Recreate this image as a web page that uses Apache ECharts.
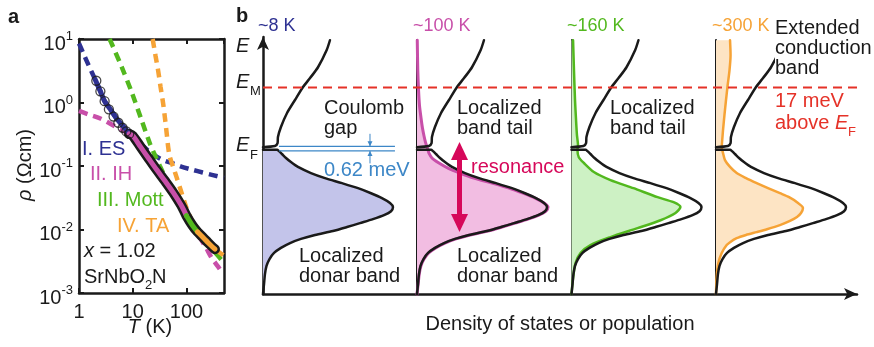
<!DOCTYPE html>
<html>
<head>
<meta charset="utf-8">
<script src="https://cdn.jsdelivr.net/npm/echarts@6/dist/echarts.min.js"></script>
<style>
  html, body { margin: 0; padding: 0; background: #fff; }
  #chart { width: 874px; height: 347px; }
</style>
</head>
<body>
<div id="chart"></div>
<script>
// ---------- styling ----------
const FONT = '"Liberation Sans", Arial, Helvetica, sans-serif';
const INK = '#1a1a1a';
const C_ES = '#2e3192', C_IH = '#c84fa9', C_MOTT = '#52b81e', C_TA = '#f6a336';
const F_ES = '#c3c4ea', F_IH = '#f2bde2', F_MOTT = '#cdf1c4', F_TA = '#fde4c4';
const C_RED = '#e53228', C_RES = '#d6085a', C_GAP = '#3d87c7';

// ---------- panel a: resistivity of SrNbO2N (x = 1.02) ----------
const rhoTickExp = [-3, -2, -1, 0, 1];
const tTickLabels = [1, 10, 100];

// sparse low-temperature points (open circles)
const circleT   = [2.1, 2.5, 3.0, 3.6, 4.4, 5.4, 6.5, 7.6, 8.6];
const circleRho = [2.2, 1.5, 1.05, 0.78, 0.60, 0.48, 0.40, 0.35, 0.32];

// dense measured curve
const curveT   = [8.6, 10, 14, 20, 28, 40, 57, 80, 100, 130, 160, 200, 240, 280, 340];
const curveRho = [0.32, 0.30, 0.20, 0.13, 0.087, 0.058, 0.038, 0.024, 0.0165, 0.0115, 0.0092, 0.0076, 0.0065, 0.0057, 0.0049];

// I. Efros-Shklovskii VRH fit
const esT   = [1, 1.2, 1.5, 2, 2.5, 3, 4, 5, 6.5, 8, 10, 13.6, 20, 28, 40, 56, 80, 130, 200, 310, 500];
const esRho = [8.5, 6.0, 3.9, 2.3, 1.5, 1.05, 0.74, 0.56, 0.43, 0.35, 0.28, 0.23, 0.17, 0.14, 0.12, 0.11, 0.098, 0.087, 0.079, 0.072, 0.065];
const esRange = [2, 8];

// II. impurity hopping fit
const ihT   = [1, 1.5, 2.5, 4.7, 8.6, 10, 14, 20, 28, 40, 57, 80, 100, 130, 177, 230, 293, 388, 480];
const ihRho = [0.74, 0.65, 0.56, 0.42, 0.32, 0.30, 0.20, 0.13, 0.087, 0.058, 0.038, 0.024, 0.0165, 0.011, 0.0075, 0.0052, 0.0036, 0.0026, 0.0020];
const ihRange = [8.6, 100];

// III. Mott VRH fit
const mottT   = [3.7, 4.05, 6.2, 9.5, 14.6, 20.8, 25.8, 32, 40, 57, 80, 100, 130, 160, 200, 250, 362, 480];
const mottRho = [10, 8.5, 3.66, 1.48, 0.53, 0.228, 0.149, 0.10, 0.068, 0.039, 0.024, 0.0165, 0.0115, 0.0092, 0.0072, 0.0058, 0.0041, 0.0031];
const mottRange = [100, 160];

// IV. thermal activation fit
const taT   = [23.5, 26.5, 29.6, 33, 36.8, 40, 43, 46, 49, 57, 65, 81, 100, 130, 160, 200, 240, 280, 340, 420, 500];
const taRho = [10, 5.5, 3.25, 1.75, 0.97, 0.55, 0.32, 0.19, 0.14, 0.095, 0.068, 0.038, 0.022, 0.013, 0.0092, 0.0076, 0.0065, 0.0057, 0.0049, 0.0043, 0.0039];
const taRange = [160, 340];

// ---------- panel b: density of states [DOS (peak = 1), energy (meV from E_F)] ----------
const eMin = -40.4, eMaxAxis = 31.0, eMaxPanel = 30.17;
const eM = 17;            // mobility edge, 17 meV above E_F
const gapMeV = 0.62;      // Coulomb gap

const bandTail = [
  [0.515, 30.1], [0.49, 27.4], [0.423, 22.6], [0.362, 19.6], [0.308, 17.1], [0.246, 13.5],
  [0.185, 9.9], [0.138, 6.0], [0.115, 3.2], [0.112, 1.5], [0.092, 0.7], [0, 0.4]
];
const donorBand = [
  [0, -0.3], [0.108, -0.3], [0.123, -0.7], [0.146, -1.5], [0.177, -2.6], [0.215, -3.75],
  [0.269, -5.1], [0.369, -6.8], [0.477, -8.2], [0.608, -9.6], [0.731, -11.0], [0.831, -12.4],
  [0.915, -13.75], [0.977, -15.1], [1.0, -16.25], [0.985, -17.4], [0.931, -18.5], [0.846, -19.6],
  [0.746, -20.7], [0.646, -21.8], [0.538, -22.9], [0.4, -24.0], [0.292, -25.1], [0.208, -26.25],
  [0.138, -27.6], [0.085, -29.0], [0.05, -30.7], [0.027, -32.6], [0.015, -34.9], [0.008, -37.6], [0, -40.4]
];
// electron population at ~8 K: the donor band filled below E_F
const pop8K = donorBand;
const pop100K = [
  [0.002, 30.1], [0.006, 21.8], [0.012, 16.25], [0.019, 12.1], [0.031, 8.5], [0.042, 5.7],
  [0.054, 3.5], [0.065, 1.8], [0.077, 0.4], [0.085, -0.4], [0.092, -1.25], [0.115, -2.6],
  [0.169, -4.0], [0.238, -5.4], [0.331, -6.8], [0.438, -8.2], [0.577, -9.6], [0.708, -11.0],
  [0.815, -12.4], [0.908, -13.75], [0.977, -15.1], [1.008, -16.25], [0.992, -17.4], [0.938, -18.5],
  [0.854, -19.6], [0.754, -20.7], [0.654, -21.8], [0.546, -22.9], [0.408, -24.0], [0.3, -25.1],
  [0.215, -26.25], [0.144, -27.6], [0.09, -29.0], [0.054, -30.7], [0.03, -32.6], [0.017, -34.9],
  [0.009, -37.6], [0, -40.4]
];
const pop160K = [
  [0.012, 30.1], [0.019, 21.8], [0.027, 13.5], [0.035, 7.9], [0.042, 3.75], [0.05, 1.0],
  [0.046, -0.4], [0.056, -2.4], [0.095, -4.0], [0.172, -6.5], [0.3, -8.75], [0.477, -11.0],
  [0.662, -13.5], [0.785, -14.9], [0.838, -16.25], [0.8, -17.9], [0.685, -19.9], [0.508, -22.1],
  [0.3, -24.6], [0.146, -26.8], [0.069, -29.0], [0.031, -31.8], [0.013, -35.7], [0, -40.4]
];
const pop300K = [
  [0.108, 30.1], [0.112, 26.0], [0.104, 21.8], [0.088, 17.1], [0.077, 13.5], [0.065, 9.3],
  [0.054, 5.1], [0.048, 2.4], [0.044, 0.4], [0.054, -1.25], [0.069, -3.2], [0.108, -5.1],
  [0.159, -6.8], [0.231, -8.2], [0.313, -9.6], [0.4, -11.0], [0.492, -12.4], [0.562, -13.5],
  [0.623, -14.9], [0.669, -16.5], [0.654, -17.9], [0.623, -19.0], [0.569, -20.1], [0.492, -21.25],
  [0.392, -22.4], [0.313, -23.2], [0.231, -24.0], [0.159, -24.9], [0.108, -26.0], [0.082, -26.8],
  [0.044, -29.0], [0.018, -31.8], [0.005, -35.7], [0, -40.4]
];
const resonanceX = 0.327, resonanceE = [-0.7, -20.7];
const gapLineX = [0.123, 1.015], gapArrowX = 0.823;

// ---------- helpers ----------
const zip = (a, b) => a.map((v, i) => [v, b[i]]);
const within = (pts, r) => pts.filter(p => p[0] >= r[0] - 1e-9 && p[0] <= r[1] + 1e-9);

function fitDashed(pts, color) {
  return { type: 'line', xAxisIndex: 0, yAxisIndex: 0, data: pts, showSymbol: false, smooth: 0.3,
    lineStyle: { color, width: 4.5, type: [9, 6], cap: 'butt' }, z: 2, silent: true };
}
function fitSolid(pts, color) {
  return { type: 'line', xAxisIndex: 0, yAxisIndex: 0, data: pts, showSymbol: false, smooth: 0.3,
    lineStyle: { color, width: 5, cap: 'round', join: 'round' }, z: 5, silent: true };
}
function dosLine(gi, pts, color, width, z) {
  return { type: 'line', xAxisIndex: gi, yAxisIndex: gi, data: pts, showSymbol: false, smooth: 0.25,
    clip: false, lineStyle: { color, width, join: 'round', cap: 'round' }, z, silent: true };
}
function dosFill(gi, pts, color) {
  const poly = [[0, pts[0][1]]].concat(pts, [[0, pts[pts.length - 1][1]]]);
  return { type: 'custom', coordinateSystem: 'cartesian2d', xAxisIndex: gi, yAxisIndex: gi,
    data: [[0, 0]], z: 1, silent: true,
    renderItem: (params, api) => ({ type: 'polygon', shape: { points: poly.map(p => api.coord(p)) },
      style: { fill: color } }) };
}
function txt(x, y, text, color, extra) {
  return { type: 'text', x, y, z: 50, silent: true,
    style: Object.assign({ text, fill: color || INK, fontSize: 20, fontFamily: FONT,
      align: 'left', verticalAlign: 'middle' }, extra || {}) };
}
const italicRich = { i: { fontStyle: 'italic', fontSize: 20, fontFamily: FONT } };

// ---------- axes ----------
const logX = (pos, labels) => ({
  gridIndex: 0, type: 'log', logBase: 10, min: 1, max: 500, position: pos,
  axisLine: { onZero: false, lineStyle: { color: INK, width: 2.5 } },
  axisTick: { inside: true, length: 5, lineStyle: { color: INK, width: 2 } },
  axisLabel: labels ? { color: INK, fontSize: 20, fontFamily: FONT, margin: 9, showMaxLabel: false,
    formatter: v => tTickLabels.includes(Math.round(v)) ? String(Math.round(v)) : '' } : { show: false },
  splitLine: { show: false }, minorTick: { show: false }
});
const logY = (pos, labels) => ({
  gridIndex: 0, type: 'log', logBase: 10, min: 1e-3, max: 10, position: pos,
  axisLine: { onZero: false, lineStyle: { color: INK, width: 2.5 } },
  axisTick: { inside: true, length: 5, lineStyle: { color: INK, width: 2 } },
  axisLabel: labels ? { color: INK, margin: 6, padding: [6, 0, 0, 0],
    formatter: v => { const e = Math.round(Math.log10(v)); return rhoTickExp.includes(e) ? '{b|10}{s|' + e + '}' : ''; },
    rich: { b: { fontSize: 20, fontFamily: FONT, color: INK, lineHeight: 24, verticalAlign: 'bottom' },
            s: { fontSize: 13, fontFamily: FONT, color: INK, lineHeight: 12, verticalAlign: 'top' } } } : { show: false },
  splitLine: { show: false }, minorTick: { show: false }
});
const hiddenX = gi => ({ gridIndex: gi, type: 'value', min: 0, max: 1.2, show: false });
const panelY = (gi, showLine) => ({
  gridIndex: gi, type: 'value', min: eMin, max: eMaxPanel,
  axisLine: { show: showLine, onZero: false, lineStyle: { color: INK, width: 2 } },
  axisTick: { show: false }, axisLabel: { show: false }, splitLine: { show: false }
});

const series = [
  // panel a: fits (dashed) under the data
  fitDashed(zip(esT, esRho), C_ES),
  fitDashed(zip(ihT, ihRho), C_IH),
  fitDashed(zip(mottT, mottRho), C_MOTT),
  fitDashed(zip(taT, taRho), C_TA),
  { type: 'line', xAxisIndex: 0, yAxisIndex: 0, data: zip(curveT, curveRho), showSymbol: false, smooth: 0.3,
    lineStyle: { color: INK, width: 10, cap: 'round', join: 'round' }, z: 4, silent: true },
  fitSolid(within(zip(esT, esRho), esRange), C_ES),
  fitSolid(within(zip(ihT, ihRho), ihRange), C_IH),
  fitSolid(within(zip(mottT, mottRho), mottRange), C_MOTT),
  fitSolid(within(zip(taT, taRho), taRange), C_TA),
  { type: 'scatter', xAxisIndex: 0, yAxisIndex: 0, data: zip(circleT, circleRho), symbol: 'circle', symbolSize: 9,
    itemStyle: { color: 'rgba(0,0,0,0)', borderColor: INK, borderWidth: 1.3 }, z: 6, silent: true },

  // panel b: mobility edge
  { type: 'line', xAxisIndex: 2, yAxisIndex: 2, data: [[0, eM], [1, eM]], showSymbol: false,
    lineStyle: { color: C_RED, width: 2, type: [9, 6] }, z: 6, silent: true },

  // population fills and outlines
  dosFill(3, pop8K, F_ES),
  dosFill(4, pop100K, F_IH),
  dosFill(5, pop160K, F_MOTT),
  dosFill(6, pop300K, F_TA),
  dosLine(4, pop100K, C_IH, 3, 3),
  dosLine(5, pop160K, C_MOTT, 2.5, 3),
  dosLine(6, pop300K, C_TA, 2.5, 3),
];
// density of states in each temperature panel
[3, 4, 5, 6].forEach(gi => {
  series.push(dosLine(gi, bandTail, INK, 2.5, 4));
  series.push(dosLine(gi, donorBand, INK, 2.5, 4));
});
// resonance arrow
series.push({ type: 'line', xAxisIndex: 4, yAxisIndex: 4, clip: false, silent: true, z: 7,
  data: [
    { value: [resonanceX, resonanceE[0]], symbol: 'triangle', symbolSize: [17, 18] },
    { value: [resonanceX, resonanceE[1]], symbol: 'triangle', symbolSize: [17, 18], symbolRotate: 180 }
  ],
  showSymbol: true, showAllSymbol: true, lineStyle: { color: C_RES, width: 5 }, itemStyle: { color: C_RES } });
// Coulomb gap lines and arrows
[gapMeV / 2, -gapMeV / 2].forEach((e, k) => {
  series.push({ type: 'line', xAxisIndex: 7, yAxisIndex: 7, clip: false, silent: true, z: 7, showSymbol: false,
    data: [[gapLineX[0], e], [gapLineX[1], e]], lineStyle: { color: C_GAP, width: 1.3 } });
  const sgn = k === 0 ? 1 : -1;
  series.push({ type: 'line', xAxisIndex: 7, yAxisIndex: 7, clip: false, silent: true, z: 7,
    showSymbol: true, showAllSymbol: true,
    data: [
      { value: [gapArrowX, sgn * 2.0], symbol: 'none' },
      { value: [gapArrowX, e], symbol: 'triangle', symbolSize: [5, 5], symbolRotate: k === 0 ? 180 : 0,
        symbolOffset: [0, k === 0 ? -2.5 : 2.5] }
    ],
    lineStyle: { color: C_GAP, width: 1 }, itemStyle: { color: C_GAP } });
});

const option = {
  animation: false,
  backgroundColor: '#fff',
  textStyle: { fontFamily: FONT },
  grid: [
    { left: 79, top: 39, width: 145, height: 254, outerBoundsMode: 'none' },
    { left: 263, top: 37, width: 594, height: 257, outerBoundsMode: 'none' },
    { left: 263, top: 40, width: 156, height: 254, outerBoundsMode: 'none' },
    { left: 417, top: 40, width: 156, height: 254, outerBoundsMode: 'none' },
    { left: 571.5, top: 40, width: 156, height: 254, outerBoundsMode: 'none' },
    { left: 716, top: 40, width: 156, height: 254, outerBoundsMode: 'none' },
    { left: 263, top: 133.6, width: 156, height: 30, outerBoundsMode: 'none' }
  ],
  xAxis: [
    logX('bottom', true),
    logX('top', false),
    { gridIndex: 1, type: 'value', min: 0, max: 1,
      axisLine: { onZero: false, symbol: ['none', 'arrow'], symbolSize: [9, 13], lineStyle: { color: INK, width: 2.5 } },
      axisTick: { show: false }, axisLabel: { show: false }, splitLine: { show: false } },
    hiddenX(2), hiddenX(3), hiddenX(4), hiddenX(5), hiddenX(6)
  ],
  yAxis: [
    logY('left', true),
    logY('right', false),
    { gridIndex: 1, type: 'value', min: eMin, max: eMaxAxis,
      axisLine: { onZero: false, symbol: ['none', 'arrow'], symbolSize: [9, 13], lineStyle: { color: INK, width: 2.5 } },
      axisTick: { show: false }, axisLabel: { show: false }, splitLine: { show: false } },
    panelY(2, false), panelY(3, true), panelY(4, true), panelY(5, true),
    { gridIndex: 6, type: 'value', min: -2.027, max: 2.027, show: false }
  ],
  series,
  graphic: [
    // panel a
    txt(8, 17, 'a', INK, { fontWeight: 'bold' }),
    txt(82, 149, 'I. ES', C_ES),
    txt(90, 174, 'II. IH', C_IH),
    txt(97, 200, 'III. Mott', C_MOTT),
    txt(117, 226, 'IV. TA', C_TA),
    txt(84, 251, '{i|x} = 1.02', INK, { rich: italicRich }),
    txt(84, 277, 'SrNbO', INK),
    txt(145, 285, '2', INK, { fontSize: 13 }),
    txt(152, 277, 'N', INK),
    txt(150, 327, '{i|T} (K)', INK, { align: 'center', rich: italicRich }),
    Object.assign(txt(25, 165, '{i|ρ} (Ωcm)', INK, { align: 'center', rich: italicRich }), { rotation: Math.PI / 2 }),
    // panel b
    txt(236, 16, 'b', INK, { fontWeight: 'bold' }),
    txt(258, 26, '~8 K', C_ES, { fontSize: 18 }),
    txt(413, 26, '~100 K', C_IH, { fontSize: 18 }),
    txt(567, 26, '~160 K', C_MOTT, { fontSize: 18 }),
    txt(712, 26, '~300 K', C_TA, { fontSize: 18 }),
    txt(775, 18.5, 'Extended\nconduction\nband', INK, { verticalAlign: 'top', lineHeight: 20, backgroundColor: '#fff' }),
    txt(236, 46.5, 'E', INK, { fontStyle: 'italic' }),
    txt(236, 82.5, 'E', INK, { fontStyle: 'italic' }),
    txt(250, 91, 'M', INK, { fontSize: 13 }),
    txt(236, 145.5, 'E', INK, { fontStyle: 'italic' }),
    txt(250, 155, 'F', INK, { fontSize: 13 }),
    txt(324, 98, 'Coulomb\ngap', INK, { verticalAlign: 'top', lineHeight: 20 }),
    txt(324, 170, '0.62 meV', C_GAP),
    txt(299, 246, 'Localized\ndonar band', INK, { verticalAlign: 'top', lineHeight: 20 }),
    txt(457, 98, 'Localized\nband tail', INK, { verticalAlign: 'top', lineHeight: 20 }),
    txt(471, 167, 'resonance', C_RES),
    txt(457, 246, 'Localized\ndonar band', INK, { verticalAlign: 'top', lineHeight: 20 }),
    txt(610, 98, 'Localized\nband tail', INK, { verticalAlign: 'top', lineHeight: 20 }),
    txt(775, 101.5, '17 meV', C_RED),
    txt(775, 123, 'above {i|E}', C_RED, { rich: { i: { fontStyle: 'italic', fontSize: 20, fontFamily: FONT, fill: C_RED, color: C_RED } } }),
    txt(848, 132.5, 'F', C_RED, { fontSize: 13 }),
    txt(560, 324, 'Density of states or population', INK, { align: 'center' })
  ]
};

const chart = echarts.init(document.getElementById('chart'));
chart.setOption(option);
</script>
</body>
</html>
